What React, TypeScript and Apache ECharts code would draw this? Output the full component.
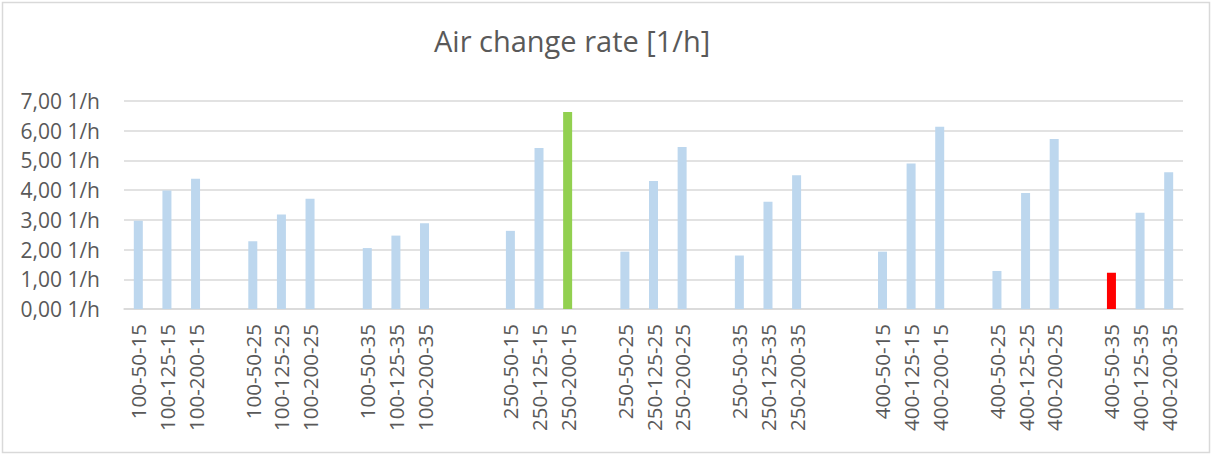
import React, { useEffect, useRef } from "react";
import * as echarts from "echarts";

const categories: string[] = [
  "100-50-15", "100-125-15", "100-200-15", "",
  "100-50-25", "100-125-25", "100-200-25", "",
  "100-50-35", "100-125-35", "100-200-35", "", "",
  "250-50-15", "250-125-15", "250-200-15", "",
  "250-50-25", "250-125-25", "250-200-25", "",
  "250-50-35", "250-125-35", "250-200-35", "", "",
  "400-50-15", "400-125-15", "400-200-15", "",
  "400-50-25", "400-125-25", "400-200-25", "",
  "400-50-35", "400-125-35", "400-200-35",
];

const values: (number | null)[] = [
  2.97, 3.99, 4.38, null,
  2.28, 3.18, 3.71, null,
  2.05, 2.47, 2.89, null, null,
  2.63, 5.42, 6.63, null,
  1.93, 4.31, 5.45, null,
  1.8, 3.61, 4.5, null, null,
  1.93, 4.9, 6.13, null,
  1.28, 3.9, 5.72, null,
  1.22, 3.24, 4.6,
];

const yTicks = [0, 1, 2, 3, 4, 5, 6, 7];
const bestCategory = "250-200-15";
const worstCategory = "400-50-35";

const BASE = "#BDD7EE";
const BEST = "#92D050";
const WORST = "#FF0000";
const TEXT = "#595959";
const FONT = "Open Sans";

export default function App() {
  const ref = useRef<HTMLDivElement>(null);
  useEffect(() => {
    if (!ref.current) return;
    const chart = echarts.init(ref.current, undefined, { renderer: "svg" });
    const data = values.map((v, i) => {
      const c = categories[i];
      const color = c === bestCategory ? BEST : c === worstCategory ? WORST : BASE;
      return { value: v, itemStyle: { color } };
    });
    chart.setOption({
      animation: false,
      backgroundColor: "#fff",
      title: {
        text: "Air change rate [1/h]",
        left: 429,
        top: 21,
        textStyle: { fontFamily: FONT, fontSize: 29, fontWeight: "normal", color: TEXT },
      },
      graphic: [
        {
          type: "rect",
          shape: { x: 2.5, y: 2.5, width: 1207, height: 450 },
          style: { fill: "none", stroke: "#D9D9D9", lineWidth: 1.5 },
          silent: true,
        },
      ],
      grid: { left: 124, right: 29, top: 101, bottom: 145, containLabel: false },
      xAxis: {
        type: "category",
        data: categories,
        axisTick: { show: false },
        axisLine: { lineStyle: { color: "#D9D9D9", width: 1.5 } },
        axisLabel: {
          interval: 0,
          rotate: 90,
          margin: 15,
          fontFamily: FONT,
          fontSize: 20.5,
          color: TEXT,
        },
      },
      yAxis: {
        type: "value",
        min: yTicks[0],
        max: yTicks[yTicks.length - 1],
        interval: 1,
        axisLine: { show: false },
        axisTick: { show: false },
        splitLine: { lineStyle: { color: "#D9D9D9", width: 1.5 } },
        axisLabel: {
          margin: 24,
          fontFamily: FONT,
          fontSize: 21,
          color: TEXT,
          formatter: (v: number) => v.toFixed(2).replace(".", ",") + " 1/h",
        },
      },
      series: [
        {
          type: "bar",
          data,
          barWidth: 9,
        },
      ],
    });
    return () => chart.dispose();
  }, []);
  return (
    <div
      ref={ref}
      style={{ position: "fixed", left: 0, top: 0, width: 1212, height: 454 }}
    />
  );
}
